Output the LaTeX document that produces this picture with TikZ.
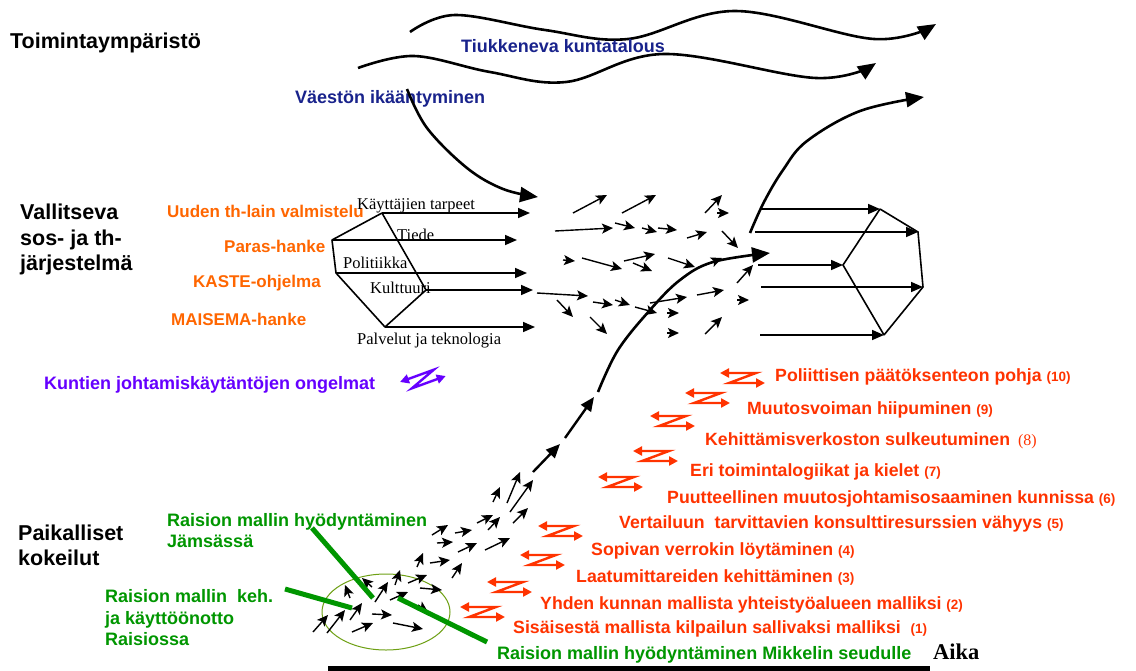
\documentclass[tikz,border=0pt]{standalone}
\usepackage{fontspec}
\setmainfont{Liberation Sans}
\newfontfamily\seriffont{Liberation Serif}
\usetikzlibrary{arrows.meta}
\definecolor{navyc}{RGB}{25,35,140}
\definecolor{orngc}{RGB}{255,102,0}
\definecolor{redc}{RGB}{255,51,0}
\definecolor{purpc}{RGB}{102,0,255}
\definecolor{grnc}{RGB}{0,150,0}
\definecolor{ellc}{RGB}{110,160,20}
\newcommand\smallnr[1]{{\fontsize{13.5}{15}\selectfont #1}}
\tikzset{
  lbl/.style={anchor=base west, inner sep=0pt, font=\bfseries\fontsize{18}{20}\selectfont},
  rlbl/.style={anchor=base west, inner sep=0pt, font=\bfseries\fontsize{17.7}{20}\selectfont},
  olbl/.style={anchor=base west, inner sep=0pt, font=\bfseries\fontsize{17}{20}\selectfont},
  headtxt/.style={anchor=base west, inner sep=0pt, font=\bfseries\fontsize{21.5}{25}\selectfont},
  ser/.style={anchor=base west, inner sep=0pt, font=\seriffont\fontsize{16.5}{19}\selectfont},
  sa/.style={line width=1.4pt, -{Stealth[length=11pt,width=10pt,inset=2.5pt]}},
  bigarr/.style={line width=2.6pt, -{Triangle[length=18pt,width=15pt]}},
  segarr/.style={line width=2.4pt, -{Triangle[length=14pt,width=12pt]}},
  pa/.style={line width=1.6pt, -{Triangle[length=12pt,width=10pt]}},
  pl/.style={line width=1.6pt},
  gl/.style={line width=5pt, grnc},
  zig/.pic={\draw[line width=2.4pt, {Triangle[length=9pt,width=9pt]}-{Triangle[length=9pt,width=9pt]}] (0,0) -- (36,0) -- (9,10) -- (45,10);},
}
\begin{document}
\begin{tikzpicture}[x=1pt,y=-1pt]
\fill[white] (0,0) rectangle (1136,670);
\useasboundingbox (0,0) rectangle (1136,670);

% headings
\node[headtxt] (t1) at (10,48) {Toimintaympäristö};
\node[headtxt] (v1) at (20,219) {Vallitseva};
\node[headtxt] (v2) at (20,245) {sos- ja th-};
\node[headtxt] (v3) at (20,270) {järjestelmä};
\node[headtxt] (pk1) at (18,540) {Paikalliset};
\node[headtxt] (pk2) at (18,565) {kokeilut};

% waves
\draw[bigarr] plot[smooth, tension=0.6] coordinates {(410,32) (455,15) (545,30) (628,39) (735,11) (874,39) (936,24)};
\draw[bigarr] plot[smooth, tension=0.6] coordinates {(358,68) (414,56) (490,72) (566,82) (664,54) (816,78) (876,63)};
\node[lbl, navyc] (tk) at (461,52) {Tiukkeneva kuntatalous};
\node[lbl, navyc] (vi) at (295,103) {Väestön ikääntyminen};
\draw[bigarr] plot[smooth, tension=0.6] coordinates {(407,89) (427,128) (467,168) (503,189) (538,197)};

% orange
\node[olbl, orngc] (o1) at (167,217) {Uuden th-lain valmistelu};
\node[olbl, orngc] (o2) at (224,252) {Paras-hanke};
\node[olbl, orngc] (o3) at (193,287) {KASTE-ohjelma};
\node[olbl, orngc] (o4) at (171,325) {MAISEMA-hanke};

% left pentagon
\coordinate (A) at (382,213);
\coordinate (B) at (332,240);
\coordinate (C) at (336,273);
\coordinate (D) at (385,327);
\coordinate (E) at (426,290);
\coordinate (A2) at (530,213);
\coordinate (B2) at (517,240);
\coordinate (C2) at (527,273);
\coordinate (E2) at (533,290);
\coordinate (D2) at (535,327);
\draw[pl, line join=round] (A) -- (B) -- (C) -- (D) -- (E) -- cycle;
\draw[pa] (A) -- (A2);
\draw[pa] (B) -- (B2);
\draw[pa] (C) -- (C2);
\draw[pa] (E) -- (E2);
\draw[pa] (D) -- (D2);
\node[ser] (l1) at (357,209) {Käyttäjien tarpeet};
\node[ser] (l2) at (397,240) {Tiede};
\node[ser] (l3) at (343,268) {Politiikka};
\node[ser] (l4) at (370,293) {Kulttuuri};
\node[ser] (l5) at (357,344) {Palvelut ja teknologia};

% right pentagon
\coordinate (P1) at (880,209);
\coordinate (P2) at (918,232);
\coordinate (P3) at (843,265);
\coordinate (P4) at (923,287);
\coordinate (P5) at (884,335);
\coordinate (Q1) at (760,209);
\coordinate (Q2) at (755,232);
\coordinate (Q3) at (758,265);
\coordinate (Q4) at (761,287);
\coordinate (Q5) at (760,335);
\draw[pl] (P1) -- (P2) -- (P4) -- (P5);
\draw[pl] (P1) -- (P3) -- (P5);
\draw[pa] (Q1) -- (P1);
\draw[pa] (Q2) -- (P2);
\draw[pa] (Q3) -- (P3);
\draw[pa] (Q4) -- (P4);
\draw[pa] (Q5) -- (P5);

% right S-curve
\draw[bigarr] plot[smooth, tension=0.6] coordinates {(750,233) (764,202) (783,170) (807,141) (860,111) (924,97)};

% small arrow field
\draw[sa] (573,213) -- (607,195);
\draw[sa] (622,213) -- (656,195);
\draw[sa] (555,231) -- (613,228);
\draw[sa] (615,223) -- (635,228);
\draw[sa] (642,228) -- (657,232);
\draw[sa] (658,228) -- (677,230);
\draw[sa] (687,238) -- (707,232);
\draw[sa] (705,213) -- (722,195);
\draw[sa] (717,213) -- (729,213);
\draw[sa] (722,231) -- (738,248);
\draw[sa] (563,260) -- (575,261);
\draw[sa] (582,258) -- (622,269);
\draw[sa] (624,261) -- (655,254);
\draw[sa] (633,263) -- (652,271);
\draw[sa] (668,258) -- (695,267);
\draw[sa] (537,293) -- (588,296);
\draw[sa] (557,300) -- (573,317);
\draw[sa] (593,302) -- (613,305);
\draw[sa] (615,300) -- (630,305);
\draw[sa] (635,307) -- (657,313);
\draw[sa] (650,303) -- (687,297);
\draw[sa] (590,317) -- (607,334);
\draw[sa] (667,313) -- (679,313);
\draw[sa] (697,295) -- (724,290);
\draw[sa] (667,333) -- (679,333);
\draw[sa] (705,334) -- (722,317);
\draw[sa] (737,300) -- (749,300);
\draw[sa] (737,283) -- (753,265);

% main growth curve
\draw[segarr] (533,472) -- (560,444);
\draw[segarr] (565,438) -- (594,397);
\draw[bigarr] plot[smooth, tension=0.6] coordinates {(598,392) (618,350) (650,310) (680,280) (713,262) (770,253)};
\draw[sa, line width=1.5pt] (700,267) -- (722,258);

% cluster
\draw[ellc, line width=1pt] (386,612) ellipse [x radius=64pt, y radius=38pt];
\draw[sa] (313,632) -- (328,615);
\draw[sa] (327,633) -- (345,610);
\draw[sa] (350,620) -- (362,603);
\draw[sa] (352,632) -- (373,623);
\draw[sa] (372,614) -- (392,615);
\draw[sa] (393,623) -- (423,629);
\draw[sa] (350,598) -- (345,585);
\draw[sa] (372,587) -- (362,578);
\draw[sa] (375,602) -- (388,582);
\draw[sa] (390,600) -- (408,592);
\draw[sa] (395,585) -- (400,570);
\draw[sa] (408,583) -- (427,575);
\draw[sa] (420,588) -- (442,590);
\draw[sa] (418,605) -- (428,612);
\draw[sa] (417,567) -- (423,553);
\draw[sa] (430,563) -- (450,560);
\draw[sa] (452,578) -- (462,563);
\draw[sa] (437,543) -- (453,542);
\draw[sa] (432,535) -- (448,525);
\draw[sa] (458,552) -- (477,543);
\draw[sa] (455,533) -- (472,530);
\draw[sa] (477,523) -- (493,515);
\draw[sa] (485,550) -- (510,538);
\draw[sa] (488,530) -- (500,517);
\draw[sa] (493,502) -- (500,487);
\draw[sa] (507,503) -- (520,472);
\draw[sa] (513,523) -- (528,508);
\draw[sa] (510,512) -- (533,480);

% green labels and callouts
\node[lbl, grnc] (j1) at (167,526) {Raision mallin hyödyntäminen};
\node[lbl, grnc] (j2) at (167,547) {Jämsässä};
\node[lbl, grnc] (k1) at (105,602) {Raision mallin\ \ keh.};
\node[lbl, grnc] (k2) at (105,624) {ja käyttöönotto};
\node[lbl, grnc] (k3) at (105,645) {Raisiossa};
\node[lbl, grnc] (m1) at (497,659) {Raision mallin hyödyntäminen Mikkelin seudulle};
\coordinate (g1a) at (312,528); \coordinate (g1b) at (373,598);
\coordinate (g2a) at (285,589); \coordinate (g2b) at (352,608);
\coordinate (g3a) at (398,598); \coordinate (g3b) at (487,642);
\draw[gl] (g1a) -- (g1b);
\draw[gl] (g2a) -- (g2b);
\draw[gl] (g3a) -- (g3b);

% purple
\node[lbl, purpc] (pu) at (44,389) {Kuntien johtamiskäytäntöjen ongelmat};
\pic[color=purpc, rotate=20] at (400,382) {zig};

% red list
\node[rlbl, redc] (r10) at (775,381) {Poliittisen päätöksenteon pohja \smallnr{(10)}};
\node[rlbl, redc] (r9) at (747,414) {Muutosvoiman hiipuminen \smallnr{(9)}};
\node[rlbl, redc] (r8) at (705,445) {Kehittämisverkoston sulkeutuminen\hspace{8pt}{\seriffont\mdseries\fontsize{16}{17}\selectfont(8)}};
\node[rlbl, redc] (r7) at (690,476) {Eri toimintalogiikat ja kielet \smallnr{(7)}};
\node[rlbl, redc] (r6) at (667,503) {Puutteellinen muutosjohtamisosaaminen kunnissa \smallnr{(6)}};
\node[rlbl, redc] (r5) at (619,528) {Vertailuun\ \ tarvittavien konsulttiresurssien vähyys \smallnr{(5)}};
\node[rlbl, redc] (r4) at (591,555) {Sopivan verrokin löytäminen \smallnr{(4)}};
\node[rlbl, redc] (r3) at (576,582) {Laatumittareiden kehittäminen \smallnr{(3)}};
\node[rlbl, redc] (r2) at (540,609) {Yhden kunnan mallista yhteistyöalueen malliksi \smallnr{(2)}};
\node[rlbl, redc] (r1) at (513,633) {Sisäisestä mallista kilpailun sallivaksi malliksi\ \ \smallnr{(1)}};
\pic[color=redc] at (720,373) {zig};
\pic[color=redc] at (685,393) {zig};
\pic[color=redc] at (650,416) {zig};
\pic[color=redc] at (633,451) {zig};
\pic[color=redc] at (598,477) {zig};
\pic[color=redc] at (538,526) {zig};
\pic[color=redc] at (520,555) {zig};
\pic[color=redc] at (487,582) {zig};
\pic[color=redc] at (460,607) {zig};

% time axis
\coordinate (ax1) at (328,668);
\coordinate (ax2) at (930,668);
\draw[line width=5pt] (ax1) -- (ax2);
\node[anchor=base west, inner sep=0pt, font=\seriffont\bfseries\fontsize{22.5}{26}\selectfont] (aika) at (933,659) {Aika};
\end{tikzpicture}
\end{document}
